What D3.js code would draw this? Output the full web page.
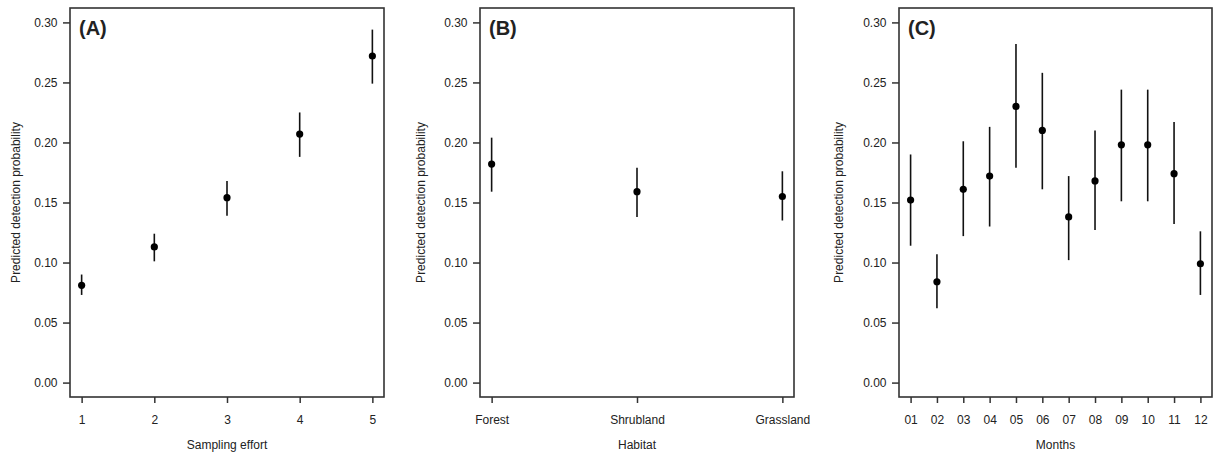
<!DOCTYPE html>
<html>
<head>
<meta charset="utf-8">
<script src="https://cdn.jsdelivr.net/npm/d3@7"></script>
<style>
  body { margin: 0; background: #fff; }
  svg { display: block; font-family: "Liberation Sans", Arial, sans-serif; }
</style>
</head>
<body>
<div id="chart"></div>
<script>
// values: estimate, lower and upper bounds
const effortLabels = ["1", "2", "3", "4", "5"];
const effortEst   = [0.081, 0.113, 0.154, 0.207, 0.272];
const effortLower = [0.073, 0.101, 0.139, 0.188, 0.249];
const effortUpper = [0.090, 0.124, 0.168, 0.225, 0.294];

const habitatLabels = ["Forest", "Shrubland", "Grassland"];
const habitatEst   = [0.182, 0.159, 0.155];
const habitatLower = [0.159, 0.138, 0.135];
const habitatUpper = [0.204, 0.179, 0.176];

const monthLabels = ["01", "02", "03", "04", "05", "06", "07", "08", "09", "10", "11", "12"];
const monthEst   = [0.152, 0.084, 0.161, 0.172, 0.230, 0.210, 0.138, 0.168, 0.198, 0.198, 0.174, 0.099];
const monthLower = [0.114, 0.062, 0.122, 0.130, 0.179, 0.161, 0.102, 0.127, 0.151, 0.151, 0.132, 0.073];
const monthUpper = [0.190, 0.107, 0.201, 0.213, 0.282, 0.258, 0.172, 0.210, 0.244, 0.244, 0.217, 0.126];

const yTicks = [0, 0.05, 0.10, 0.15, 0.20, 0.25, 0.30];

const W = 1215, H = 459;
const plotTop = 8, plotBottom = 397;

let svg = d3.select("#chart").append("svg")
  .attr("width", W)
  .attr("height", H);

function panel(opts) {
  let left = opts.left, right = opts.right;
  let n = opts.labels.length;

  // R style: 4% padding on both axes
  let xPad = (n - 1) * 0.04;
  let x = d3.scaleLinear().domain([1 - xPad, n + xPad]).range([left, right]);
  let y = d3.scaleLinear().domain([-0.012, 0.312]).range([plotBottom, plotTop]);

  let g = svg.append("g");

  // y axis
  let ya = g.append("g")
    .attr("transform", "translate(" + left + ",0)")
    .call(d3.axisLeft(y).tickValues(yTicks).tickSize(7).tickPadding(5.5)
      .tickFormat(d3.format(".2f")));
  ya.select(".domain").remove();

  // x axis
  let xa = g.append("g")
    .attr("transform", "translate(0," + plotBottom + ")")
    .call(d3.axisBottom(x).tickValues(d3.range(1, n + 1)).tickSize(6).tickPadding(12)
      .tickFormat(function(d) { return opts.labels[d - 1]; }));
  xa.select(".domain").remove();

  g.selectAll(".tick line").attr("stroke", "#333").attr("stroke-width", 1.5);
  g.selectAll(".tick text").attr("fill", "#222").style("font-size", "12px");

  // box
  g.append("rect")
    .attr("x", left).attr("y", plotTop)
    .attr("width", right - left).attr("height", plotBottom - plotTop)
    .attr("fill", "none").attr("stroke", "#333").attr("stroke-width", 1.6);

  // error bars
  g.selectAll(".err")
    .data(opts.est)
    .enter().append("line")
    .attr("class", "err")
    .attr("x1", function(d, i) { return x(i + 1); })
    .attr("x2", function(d, i) { return x(i + 1); })
    .attr("y1", function(d, i) { return y(opts.lower[i]); })
    .attr("y2", function(d, i) { return y(opts.upper[i]); })
    .attr("stroke", "#111").attr("stroke-width", 1.6);

  g.selectAll(".pt")
    .data(opts.est)
    .enter().append("circle")
    .attr("class", "pt")
    .attr("cx", function(d, i) { return x(i + 1); })
    .attr("cy", function(d) { return y(d); })
    .attr("r", 3.6)
    .attr("fill", "#000");

  // panel letter
  g.append("text")
    .attr("x", left + 9)
    .attr("y", 35)
    .style("font-size", "20px")
    .style("font-weight", "bold")
    .attr("fill", "#222")
    .text(opts.tag);

  // axis titles
  g.append("text")
    .attr("x", (left + right) / 2)
    .attr("y", 449)
    .attr("text-anchor", "middle")
    .style("font-size", "12px")
    .attr("fill", "#222")
    .text(opts.xTitle);

  g.append("text")
    .attr("transform", "translate(" + opts.yTitleX + "," + (plotTop + plotBottom) / 2 + ") rotate(-90)")
    .attr("dy", "0.35em")
    .attr("text-anchor", "middle")
    .style("font-size", "12px")
    .attr("fill", "#222")
    .text("Predicted detection probability");
}

panel({ left: 70, right: 384, labels: effortLabels, est: effortEst, lower: effortLower, upper: effortUpper,
  tag: "(A)", xTitle: "Sampling effort", yTitleX: 16 });
panel({ left: 480, right: 794, labels: habitatLabels, est: habitatEst, lower: habitatLower, upper: habitatUpper,
  tag: "(B)", xTitle: "Habitat", yTitleX: 421 });
panel({ left: 899, right: 1212, labels: monthLabels, est: monthEst, lower: monthLower, upper: monthUpper,
  tag: "(C)", xTitle: "Months", yTitleX: 838.5 });
</script>
</body>
</html>
